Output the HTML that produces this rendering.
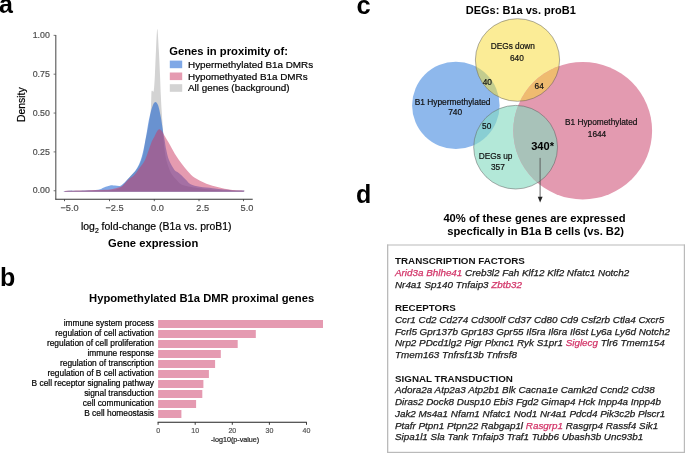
<!DOCTYPE html><html><head><meta charset="utf-8"><style>html,body{margin:0;padding:0;background:#fff;width:685px;height:453px;overflow:hidden}svg{display:block;will-change:transform}</style></head><body><svg width="685" height="453" viewBox="0 0 685 453">
<rect width="685" height="453" fill="#fff"/>
<g font-family="Liberation Sans, sans-serif">
<text x="-1" y="13.3" font-size="25" font-weight="bold" fill="#000">a</text>
<text x="356.4" y="14" font-size="25.5" font-weight="bold" fill="#000">c</text>
<text x="0" y="286.3" font-size="25" font-weight="bold" fill="#000">b</text>
<text x="356" y="202.5" font-size="25" font-weight="bold" fill="#000">d</text>
<path d="M65.00,191.70 C65.00,191.58 62.17,191.15 65.00,191.00 C67.83,190.85 76.17,190.88 82.00,190.80 C87.83,190.72 94.33,190.72 100.00,190.50 C105.67,190.28 112.25,190.32 116.00,189.50 C119.75,188.68 120.17,187.75 122.50,185.60 C124.83,183.45 127.47,179.53 130.00,176.60 C132.53,173.67 135.58,171.43 137.70,168.00 C139.82,164.57 141.43,160.50 142.70,156.00 C143.97,151.50 144.37,145.83 145.30,141.00 C146.23,136.17 147.42,131.83 148.30,127.00 C149.18,122.17 150.12,116.50 150.60,112.00 C151.08,107.50 151.05,103.42 151.20,100.00 C151.35,96.58 151.32,93.03 151.50,91.50 C151.68,89.97 151.92,90.97 152.30,90.80 C152.68,90.63 153.37,93.13 153.80,90.50 C154.23,87.87 154.53,81.75 154.90,75.00 C155.27,68.25 155.60,57.68 156.00,50.00 C156.40,42.32 156.83,28.90 157.30,28.90 C157.77,28.90 158.35,42.32 158.80,50.00 C159.25,57.68 159.67,67.50 160.00,75.00 C160.33,82.50 160.53,89.17 160.80,95.00 C161.07,100.83 161.30,105.00 161.60,110.00 C161.90,115.00 162.27,120.00 162.60,125.00 C162.93,130.00 163.27,135.83 163.60,140.00 C163.93,144.17 164.15,146.67 164.60,150.00 C165.05,153.33 165.47,156.67 166.30,160.00 C167.13,163.33 168.60,167.50 169.60,170.00 C170.60,172.50 171.12,173.33 172.30,175.00 C173.48,176.67 174.95,178.33 176.70,180.00 C178.45,181.67 178.95,183.62 182.80,185.00 C186.65,186.38 193.60,187.42 199.80,188.30 C206.00,189.18 212.70,189.88 220.00,190.30 C227.30,190.72 239.67,190.57 243.60,190.80 C247.53,191.03 243.60,191.55 243.60,191.70 Z" fill="#d3d3d3"/>
<path d="M65.00,191.70 C65.00,191.58 61.67,191.20 65.00,191.00 C68.33,190.80 79.45,190.70 85.00,190.50 C90.55,190.30 95.13,190.30 98.30,189.80 C101.47,189.30 101.90,188.25 104.00,187.50 C106.10,186.75 109.07,185.63 110.90,185.30 C112.73,184.97 113.53,185.38 115.00,185.50 C116.47,185.62 118.40,186.25 119.70,186.00 C121.00,185.75 121.75,184.83 122.80,184.00 C123.85,183.17 124.80,182.22 126.00,181.00 C127.20,179.78 128.50,178.32 130.00,176.70 C131.50,175.08 133.50,173.33 135.00,171.30 C136.50,169.27 137.83,167.05 139.00,164.50 C140.17,161.95 141.12,159.08 142.00,156.00 C142.88,152.92 143.55,149.67 144.30,146.00 C145.05,142.33 145.80,138.00 146.50,134.00 C147.20,130.00 147.83,125.50 148.50,122.00 C149.17,118.50 149.82,115.67 150.50,113.00 C151.18,110.33 151.82,107.83 152.60,106.00 C153.38,104.17 154.27,102.08 155.20,102.00 C156.13,101.92 157.27,103.00 158.20,105.50 C159.13,108.00 160.15,113.75 160.80,117.00 C161.45,120.25 161.68,122.33 162.10,125.00 C162.52,127.67 162.88,130.50 163.30,133.00 C163.72,135.50 164.10,137.17 164.60,140.00 C165.10,142.83 165.57,146.67 166.30,150.00 C167.03,153.33 167.63,156.67 169.00,160.00 C170.37,163.33 173.03,167.95 174.50,170.00 C175.97,172.05 176.60,171.38 177.80,172.30 C179.00,173.22 180.32,174.22 181.70,175.50 C183.08,176.78 184.62,178.55 186.10,180.00 C187.58,181.45 188.32,183.07 190.60,184.20 C192.88,185.33 196.15,186.13 199.80,186.80 C203.45,187.47 208.97,187.78 212.50,188.20 C216.03,188.62 217.25,188.93 221.00,189.30 C224.75,189.67 231.23,190.18 235.00,190.40 C238.77,190.62 242.17,190.38 243.60,190.60 C245.03,190.82 243.60,191.52 243.60,191.70 Z" fill="#0051cd" fill-opacity="0.5"/>
<path d="M65.00,191.70 C65.00,191.58 62.50,191.18 65.00,191.00 C67.50,190.82 74.67,190.75 80.00,190.60 C85.33,190.45 92.83,190.23 97.00,190.10 C101.17,189.97 102.58,189.93 105.00,189.80 C107.42,189.67 108.97,189.77 111.50,189.30 C114.03,188.83 118.23,187.72 120.20,187.00 C122.17,186.28 122.00,186.17 123.30,185.00 C124.60,183.83 126.17,181.67 128.00,180.00 C129.83,178.33 132.38,177.00 134.30,175.00 C136.22,173.00 137.72,170.50 139.50,168.00 C141.28,165.50 143.17,163.83 145.00,160.00 C146.83,156.17 149.25,148.33 150.50,145.00 C151.75,141.67 151.83,141.42 152.50,140.00 C153.17,138.58 153.83,137.78 154.50,136.50 C155.17,135.22 155.92,133.38 156.50,132.30 C157.08,131.22 157.53,130.50 158.00,130.00 C158.47,129.50 158.83,129.32 159.30,129.30 C159.77,129.28 160.27,129.45 160.80,129.90 C161.33,130.35 161.90,131.07 162.50,132.00 C163.10,132.93 163.73,134.33 164.40,135.50 C165.07,136.67 165.57,137.43 166.50,139.00 C167.43,140.57 168.40,142.10 170.00,144.90 C171.60,147.70 174.08,152.57 176.10,155.80 C178.12,159.03 180.12,161.68 182.10,164.30 C184.08,166.92 185.97,169.28 188.00,171.50 C190.03,173.72 191.23,175.57 194.30,177.60 C197.37,179.63 202.37,182.08 206.40,183.70 C210.43,185.32 214.45,186.28 218.50,187.30 C222.55,188.32 226.52,189.25 230.70,189.80 C234.88,190.35 241.45,190.28 243.60,190.60 C245.75,190.92 243.60,191.52 243.60,191.70 Z" fill="#cb3761" fill-opacity="0.5"/>
<line x1="55.8" y1="35" x2="55.8" y2="199.5" stroke="#555" stroke-width="1.1"/>
<line x1="55.3" y1="199.3" x2="252.7" y2="199.3" stroke="#333" stroke-width="1.1"/>
<line x1="53.6" y1="35.35" x2="55.8" y2="35.35" stroke="#555" stroke-width="0.8"/>
<text stroke="#4d4d4d" stroke-width="0.2" x="49.8" y="38.0" font-size="8.8" fill="#4d4d4d" text-anchor="end">1.00</text>
<line x1="53.6" y1="74.2" x2="55.8" y2="74.2" stroke="#555" stroke-width="0.8"/>
<text stroke="#4d4d4d" stroke-width="0.2" x="49.8" y="76.8" font-size="8.8" fill="#4d4d4d" text-anchor="end">0.75</text>
<line x1="53.6" y1="113.05000000000001" x2="55.8" y2="113.05000000000001" stroke="#555" stroke-width="0.8"/>
<text stroke="#4d4d4d" stroke-width="0.2" x="49.8" y="115.7" font-size="8.8" fill="#4d4d4d" text-anchor="end">0.50</text>
<line x1="53.6" y1="151.9" x2="55.8" y2="151.9" stroke="#555" stroke-width="0.8"/>
<text stroke="#4d4d4d" stroke-width="0.2" x="49.8" y="154.5" font-size="8.8" fill="#4d4d4d" text-anchor="end">0.25</text>
<line x1="53.6" y1="190.75" x2="55.8" y2="190.75" stroke="#555" stroke-width="0.8"/>
<text stroke="#4d4d4d" stroke-width="0.2" x="49.8" y="193.3" font-size="8.8" fill="#4d4d4d" text-anchor="end">0.00</text>
<line x1="64.5" y1="199.3" x2="64.5" y2="201.2" stroke="#333" stroke-width="0.8"/>
<text stroke="#4d4d4d" stroke-width="0.2" x="69.5" y="211" font-size="9.2" fill="#4d4d4d" text-anchor="middle">−5.0</text>
<line x1="109.5" y1="199.3" x2="109.5" y2="201.2" stroke="#333" stroke-width="0.8"/>
<text stroke="#4d4d4d" stroke-width="0.2" x="114.5" y="211" font-size="9.2" fill="#4d4d4d" text-anchor="middle">−2.5</text>
<line x1="154.3" y1="199.3" x2="154.3" y2="201.2" stroke="#333" stroke-width="0.8"/>
<text stroke="#4d4d4d" stroke-width="0.2" x="157.5" y="211" font-size="9.2" fill="#4d4d4d" text-anchor="middle">0.0</text>
<line x1="199" y1="199.3" x2="199" y2="201.2" stroke="#333" stroke-width="0.8"/>
<text stroke="#4d4d4d" stroke-width="0.2" x="202.7" y="211" font-size="9.2" fill="#4d4d4d" text-anchor="middle">2.5</text>
<line x1="243.5" y1="199.3" x2="243.5" y2="201.2" stroke="#333" stroke-width="0.8"/>
<text stroke="#4d4d4d" stroke-width="0.2" x="247" y="211" font-size="9.2" fill="#4d4d4d" text-anchor="middle">5.0</text>
<text stroke="#000" stroke-width="0.2" transform="translate(24.5,104.7) rotate(-90)" font-size="10.4" fill="#000" text-anchor="middle">Density</text>
<text stroke="#000" stroke-width="0.2" x="81" y="230.4" font-size="10.45" fill="#000">log<tspan font-size="6.8" dy="2.8">2</tspan><tspan dy="-2.8"> fold-change (B1a vs. proB1)</tspan></text>
<text x="153.2" y="247.3" font-size="11.2" font-weight="bold" fill="#000" text-anchor="middle">Gene expression</text>
<text x="169.2" y="54.5" font-size="11.25" font-weight="bold" fill="#000">Genes in proximity of:</text>
<rect x="169.8" y="60.6" width="12.4" height="7.6" fill="#7fa8e6"/>
<rect x="169.8" y="72.5" width="12.4" height="7.6" fill="#e59bb1"/>
<rect x="169.8" y="84.2" width="12.4" height="7.6" fill="#d3d3d3"/>
<text stroke="#000" stroke-width="0.2" x="188" y="67.8" font-size="9.9" fill="#000">Hypermethylated B1a DMRs</text>
<text stroke="#000" stroke-width="0.2" x="188" y="79.6" font-size="9.9" fill="#000">Hypomethyated B1a DMRs</text>
<text stroke="#000" stroke-width="0.2" x="188" y="91.4" font-size="9.9" fill="#000">All genes (background)</text>
<text x="201.6" y="302.3" font-size="11.22" font-weight="bold" fill="#000" text-anchor="middle">Hypomethylated B1a DMR proximal genes</text>
<rect x="158.1" y="320" width="164.9" height="8" fill="#e59ab1"/>
<text stroke="#000" stroke-width="0.2" x="154" y="326.2" font-size="8.4" fill="#000" text-anchor="end">immune system process</text>
<rect x="158.1" y="330" width="97.7" height="8" fill="#e59ab1"/>
<text stroke="#000" stroke-width="0.2" x="154" y="336.2" font-size="8.4" fill="#000" text-anchor="end">regulation of cell activation</text>
<rect x="158.1" y="340" width="79.6" height="8" fill="#e59ab1"/>
<text stroke="#000" stroke-width="0.2" x="154" y="346.2" font-size="8.4" fill="#000" text-anchor="end">regulation of cell proliferation</text>
<rect x="158.1" y="350" width="62.7" height="8" fill="#e59ab1"/>
<text stroke="#000" stroke-width="0.2" x="154" y="356.2" font-size="8.4" fill="#000" text-anchor="end">immune response</text>
<rect x="158.1" y="360" width="57.0" height="8" fill="#e59ab1"/>
<text stroke="#000" stroke-width="0.2" x="154" y="366.2" font-size="8.4" fill="#000" text-anchor="end">regulation of transcription</text>
<rect x="158.1" y="370" width="50.8" height="8" fill="#e59ab1"/>
<text stroke="#000" stroke-width="0.2" x="154" y="376.2" font-size="8.4" fill="#000" text-anchor="end">regulation of B cell activation</text>
<rect x="158.1" y="380" width="45.3" height="8" fill="#e59ab1"/>
<text stroke="#000" stroke-width="0.2" x="154" y="386.2" font-size="8.4" fill="#000" text-anchor="end">B cell receptor signaling pathway</text>
<rect x="158.1" y="390" width="44.2" height="8" fill="#e59ab1"/>
<text stroke="#000" stroke-width="0.2" x="154" y="396.2" font-size="8.4" fill="#000" text-anchor="end">signal transduction</text>
<rect x="158.1" y="400" width="38.0" height="8" fill="#e59ab1"/>
<text stroke="#000" stroke-width="0.2" x="154" y="406.2" font-size="8.4" fill="#000" text-anchor="end">cell communication</text>
<rect x="158.1" y="410" width="23.3" height="8" fill="#e59ab1"/>
<text stroke="#000" stroke-width="0.2" x="154" y="416.2" font-size="8.4" fill="#000" text-anchor="end">B cell homeostasis</text>
<line x1="157.6" y1="422.3" x2="306.8" y2="422.3" stroke="#222" stroke-width="1.1"/>
<line x1="158.1" y1="422.3" x2="158.1" y2="424.8" stroke="#222" stroke-width="0.9"/>
<text stroke="#555" stroke-width="0.2" x="158.1" y="432.6" font-size="7" fill="#555" text-anchor="middle">0</text>
<line x1="195.2" y1="422.3" x2="195.2" y2="424.8" stroke="#222" stroke-width="0.9"/>
<text stroke="#555" stroke-width="0.2" x="195.2" y="432.6" font-size="7" fill="#555" text-anchor="middle">10</text>
<line x1="232.3" y1="422.3" x2="232.3" y2="424.8" stroke="#222" stroke-width="0.9"/>
<text stroke="#555" stroke-width="0.2" x="232.3" y="432.6" font-size="7" fill="#555" text-anchor="middle">20</text>
<line x1="269.4" y1="422.3" x2="269.4" y2="424.8" stroke="#222" stroke-width="0.9"/>
<text stroke="#555" stroke-width="0.2" x="269.4" y="432.6" font-size="7" fill="#555" text-anchor="middle">30</text>
<line x1="306.5" y1="422.3" x2="306.5" y2="424.8" stroke="#222" stroke-width="0.9"/>
<text stroke="#555" stroke-width="0.2" x="306.5" y="432.6" font-size="7" fill="#555" text-anchor="middle">40</text>
<text stroke="#222" stroke-width="0.2" x="235.1" y="442.2" font-size="7.2" fill="#222" text-anchor="middle">-log10(p-value)</text>
<text x="520.8" y="14.3" font-size="11" font-weight="bold" fill="#000" text-anchor="middle">DEGs: B1a vs. proB1</text>
<defs><clipPath id="cB"><ellipse cx="455.85" cy="105.4" rx="43.75" ry="43.7"/></clipPath><clipPath id="cY"><ellipse cx="517.5" cy="60.0" rx="42.1" ry="41.3"/></clipPath><clipPath id="cG"><ellipse cx="515.6" cy="147.2" rx="41.9" ry="41.8"/></clipPath><clipPath id="cP"><ellipse cx="582.7" cy="130.7" rx="69.4" ry="68.7"/></clipPath></defs>
<ellipse cx="455.85" cy="105.4" rx="43.75" ry="43.7" fill="#8eb8ec"/>
<ellipse cx="517.5" cy="60.0" rx="42.1" ry="41.3" fill="#fbec96"/>
<ellipse cx="515.6" cy="147.2" rx="41.9" ry="41.8" fill="#b3e8d8"/>
<ellipse cx="582.7" cy="130.7" rx="69.4" ry="68.7" fill="#e39ab0"/>
<g clip-path="url(#cB)"><ellipse cx="517.5" cy="60.0" rx="42.1" ry="41.3" fill="#c3cc8e"/><ellipse cx="515.6" cy="147.2" rx="41.9" ry="41.8" fill="#89ced3"/></g>
<g clip-path="url(#cP)"><ellipse cx="517.5" cy="60.0" rx="42.1" ry="41.3" fill="#efbb70"/><ellipse cx="515.6" cy="147.2" rx="41.9" ry="41.8" fill="#a8c2b9"/></g>
<ellipse cx="517.5" cy="60.0" rx="42.1" ry="41.3" fill="none" stroke="#555" stroke-width="0.6" stroke-opacity="0.8"/>
<ellipse cx="515.6" cy="147.2" rx="41.9" ry="41.8" fill="none" stroke="#555" stroke-width="0.6" stroke-opacity="0.8"/>
<text stroke="#111" stroke-width="0.2" x="452.6" y="105" font-size="8.4" font-weight="normal" fill="#111" text-anchor="middle">B1 Hypermethylated</text>
<text stroke="#111" stroke-width="0.2" x="455.2" y="115.1" font-size="8.4" font-weight="normal" fill="#111" text-anchor="middle">740</text>
<text stroke="#111" stroke-width="0.2" x="512.8" y="49.2" font-size="8.3" font-weight="normal" fill="#111" text-anchor="middle">DEGs down</text>
<text stroke="#111" stroke-width="0.2" x="516.9" y="60.6" font-size="8.3" font-weight="normal" fill="#111" text-anchor="middle">640</text>
<text stroke="#111" stroke-width="0.2" x="487.3" y="85.2" font-size="8.3" font-weight="normal" fill="#111" text-anchor="middle">40</text>
<text stroke="#111" stroke-width="0.2" x="539.2" y="89.0" font-size="8.3" font-weight="normal" fill="#111" text-anchor="middle">64</text>
<text stroke="#111" stroke-width="0.2" x="486.7" y="129" font-size="8.3" font-weight="normal" fill="#111" text-anchor="middle">50</text>
<text stroke="#111" stroke-width="0.2" x="495.6" y="158.8" font-size="8.3" font-weight="normal" fill="#111" text-anchor="middle">DEGs up</text>
<text stroke="#111" stroke-width="0.2" x="497.9" y="170" font-size="8.3" font-weight="normal" fill="#111" text-anchor="middle">357</text>
<text stroke="#111" stroke-width="0.2" x="601.2" y="125.4" font-size="8.3" font-weight="normal" fill="#111" text-anchor="middle">B1 Hypomethylated</text>
<text stroke="#111" stroke-width="0.2" x="597" y="136.5" font-size="8.3" font-weight="normal" fill="#111" text-anchor="middle">1644</text>
<text x="542.6" y="149.7" font-size="11.1" font-weight="bold" fill="#000" text-anchor="middle">340*</text>
<line x1="540.1" y1="157.9" x2="540.1" y2="198" stroke="#555" stroke-width="0.9"/>
<path d="M537.8,196.8 L542.6,196.8 L540.1,202.5 Z" fill="#222"/>
<text x="534.5" y="222.2" font-size="11.2" font-weight="bold" fill="#000" text-anchor="middle">40% of these genes are expressed</text>
<text x="535.6" y="235.4" font-size="11.2" font-weight="bold" fill="#000" text-anchor="middle">specfically in B1a B cells (vs. B2)</text>
<rect x="387" y="244" width="298" height="2" fill="#dcdcdc"/><rect x="387" y="244.6" width="1.3" height="209" fill="#bababa"/><rect x="683.8" y="244.6" width="1.2" height="209" fill="#bababa"/><rect x="387" y="451.8" width="298" height="1.2" fill="#bababa"/>
<text x="395" y="264.10" font-size="9.8" font-weight="bold" fill="#111">TRANSCRIPTION FACTORS</text>
<text x="395" y="275.85" font-size="9.85" font-style="italic" fill="#1a1a1a" stroke="#1a1a1a" stroke-width="0.25" xml:space="preserve"><tspan fill="#d23367" stroke="#d23367">Arid3a Bhlhe41</tspan><tspan> Creb3l2 Fah Klf12 Klf2 Nfatc1 Notch2</tspan></text>
<text x="395" y="287.60" font-size="9.85" font-style="italic" fill="#1a1a1a" stroke="#1a1a1a" stroke-width="0.25" xml:space="preserve"><tspan>Nr4a1 Sp140 Tnfaip3 </tspan><tspan fill="#d23367" stroke="#d23367">Zbtb32</tspan></text>
<text x="395" y="311.10" font-size="9.8" font-weight="bold" fill="#111">RECEPTORS</text>
<text x="395" y="322.85" font-size="9.85" font-style="italic" fill="#1a1a1a" stroke="#1a1a1a" stroke-width="0.25" xml:space="preserve"><tspan>Ccr1 Cd2 Cd274 Cd300lf Cd37 Cd80 Cd9 Csf2rb Ctla4 Cxcr5</tspan></text>
<text x="395" y="334.60" font-size="9.85" font-style="italic" fill="#1a1a1a" stroke="#1a1a1a" stroke-width="0.25" xml:space="preserve"><tspan>Fcrl5 Gpr137b Gpr183 Gpr55 Il5ra Il6ra Il6st Ly6a Ly6d Notch2</tspan></text>
<text x="395" y="346.35" font-size="9.85" font-style="italic" fill="#1a1a1a" stroke="#1a1a1a" stroke-width="0.25" xml:space="preserve"><tspan>Nrp2 PDcd1lg2 Pigr Plxnc1 Ryk S1pr1 </tspan><tspan fill="#d23367" stroke="#d23367">Siglecg</tspan><tspan> Tlr6 Tmem154</tspan></text>
<text x="395" y="358.10" font-size="9.85" font-style="italic" fill="#1a1a1a" stroke="#1a1a1a" stroke-width="0.25" xml:space="preserve"><tspan>Tmem163 Tnfrsf13b Tnfrsf8</tspan></text>
<text x="395" y="381.60" font-size="9.8" font-weight="bold" fill="#111">SIGNAL TRANSDUCTION</text>
<text x="395" y="393.35" font-size="9.85" font-style="italic" fill="#1a1a1a" stroke="#1a1a1a" stroke-width="0.25" xml:space="preserve"><tspan>Adora2a Atp2a3 Atp2b1 Blk Cacna1e Camk2d Ccnd2 Cd38</tspan></text>
<text x="395" y="405.10" font-size="9.85" font-style="italic" fill="#1a1a1a" stroke="#1a1a1a" stroke-width="0.25" xml:space="preserve"><tspan>Diras2 Dock8 Dusp10 Ebi3 Fgd2 Gimap4 Hck Inpp4a Inpp4b</tspan></text>
<text x="395" y="416.85" font-size="9.85" font-style="italic" fill="#1a1a1a" stroke="#1a1a1a" stroke-width="0.25" xml:space="preserve"><tspan>Jak2 Ms4a1 Nfam1 Nfatc1 Nod1 Nr4a1 Pdcd4 Pik3c2b Plscr1</tspan></text>
<text x="395" y="428.60" font-size="9.85" font-style="italic" fill="#1a1a1a" stroke="#1a1a1a" stroke-width="0.25" xml:space="preserve"><tspan>Ptafr Ptpn1 Ptpn22 Rabgap1l </tspan><tspan fill="#d23367" stroke="#d23367">Rasgrp1</tspan><tspan> Rasgrp4 Rassf4 Sik1</tspan></text>
<text x="395" y="440.35" font-size="9.85" font-style="italic" fill="#1a1a1a" stroke="#1a1a1a" stroke-width="0.25" xml:space="preserve"><tspan>Sipa1l1 Sla Tank Tnfaip3 Traf1 Tubb6 Ubash3b Unc93b1</tspan></text>
</g></svg></body></html>
